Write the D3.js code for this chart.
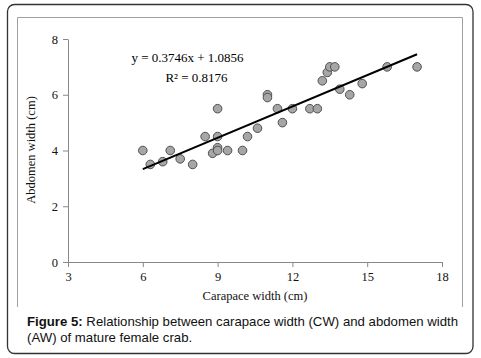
<!DOCTYPE html>
<html><head><meta charset="utf-8">
<script src="https://cdn.jsdelivr.net/npm/d3@7"></script>
<style>body{margin:0;background:#fff}svg{display:block}</style>
</head><body>
<svg id="c" width="481" height="358"></svg>
<script>
const cw = [6,6.3,6.8,7.1,7.5,8,8.8,9,9,9.4,10,9,8.5,9,10.2,10.6,11,11,11.4,11.6,12,12.7,13,13.2,13.4,13.5,13.7,13.9,14.3,14.8,15.8,17];
const aw = [4,3.5,3.6,4,3.7,3.5,3.9,4.1,4.0,4,4,5.5,4.5,4.5,4.5,4.8,6,5.9,5.5,5,5.5,5.5,5.5,6.5,6.8,7,7,6.2,6,6.4,7,7];
const xTicks = [3,6,9,12,15,18];
const yTicks = [0,2,4,6,8];
const slope = 0.3746, intercept = 1.0856;
const fitRange = [6,17];

const svg = d3.select("#c");
const x = d3.scaleLinear().domain([3,18]).range([68,442]);
const y = d3.scaleLinear().domain([0,8]).range([262,39]);

svg.append("rect").attr("x",7.5).attr("y",4.5).attr("width",465.5).attr("height",349)
  .attr("rx",7).attr("fill","none").attr("stroke","#333").attr("stroke-width",1.3);
svg.append("path").attr("d","M17.5,307 V17.5 H462.5 V307").attr("fill","none").attr("stroke","#a0a0a0").attr("stroke-width",1);

const ser = "'Liberation Serif','Times New Roman',serif";
const xa = svg.append("g").attr("transform","translate(0,262)").call(d3.axisBottom(x).tickValues(xTicks).tickSize(5).tickSizeOuter(0).tickPadding(5));
const ya = svg.append("g").attr("transform","translate(68,0)").call(d3.axisLeft(y).tickValues(yTicks).tickSize(5).tickSizeOuter(0).tickPadding(5));
[xa,ya].forEach(a=>{
  a.selectAll("path,line").attr("stroke","#888");
  a.selectAll("text").attr("font-family",ser).attr("font-size","12.5px").attr("fill","#111");
});

svg.append("g").selectAll("circle").data(cw.map((d,i)=>[d,aw[i]])).join("circle")
  .attr("cx",d=>x(d[0])).attr("cy",d=>y(d[1])).attr("r",4.3)
  .attr("fill","#a6a6a6").attr("stroke","#505050").attr("stroke-width",1);

svg.append("line").attr("x1",x(fitRange[0])).attr("y1",y(slope*fitRange[0]+intercept))
  .attr("x2",x(fitRange[1])).attr("y2",y(slope*fitRange[1]+intercept))
  .attr("stroke","#000").attr("stroke-width",2);

svg.append("text").attr("x",187.5).attr("y",62).attr("text-anchor","middle")
  .attr("font-family",ser).attr("font-size","13px").attr("fill","#000").text("y = 0.3746x + 1.0856");
svg.append("text").attr("x",196.5).attr("y",82).attr("text-anchor","middle")
  .attr("font-family",ser).attr("font-size","13px").attr("fill","#000").text("R² = 0.8176");

svg.append("text").attr("x",255).attr("y",300).attr("text-anchor","middle")
  .attr("font-family",ser).attr("font-size","12.5px").attr("fill","#111").text("Carapace width (cm)");
svg.append("text").attr("transform","translate(35,150) rotate(-90)").attr("text-anchor","middle")
  .attr("font-family",ser).attr("font-size","12.5px").attr("fill","#111").text("Abdomen width (cm)");

const sans = "'Liberation Sans',Arial,sans-serif";
const cap1 = svg.append("text").attr("x",27).attr("y",326).attr("font-family",sans).attr("font-size","13.2px").attr("fill","#111");
cap1.append("tspan").attr("font-weight","bold").text("Figure 5:");
cap1.append("tspan").text(" Relationship between carapace width (CW) and abdomen width");
svg.append("text").attr("x",27).attr("y",342).attr("font-family",sans).attr("font-size","13.2px").attr("fill","#111")
  .text("(AW) of mature female crab.");
</script>
</body></html>
